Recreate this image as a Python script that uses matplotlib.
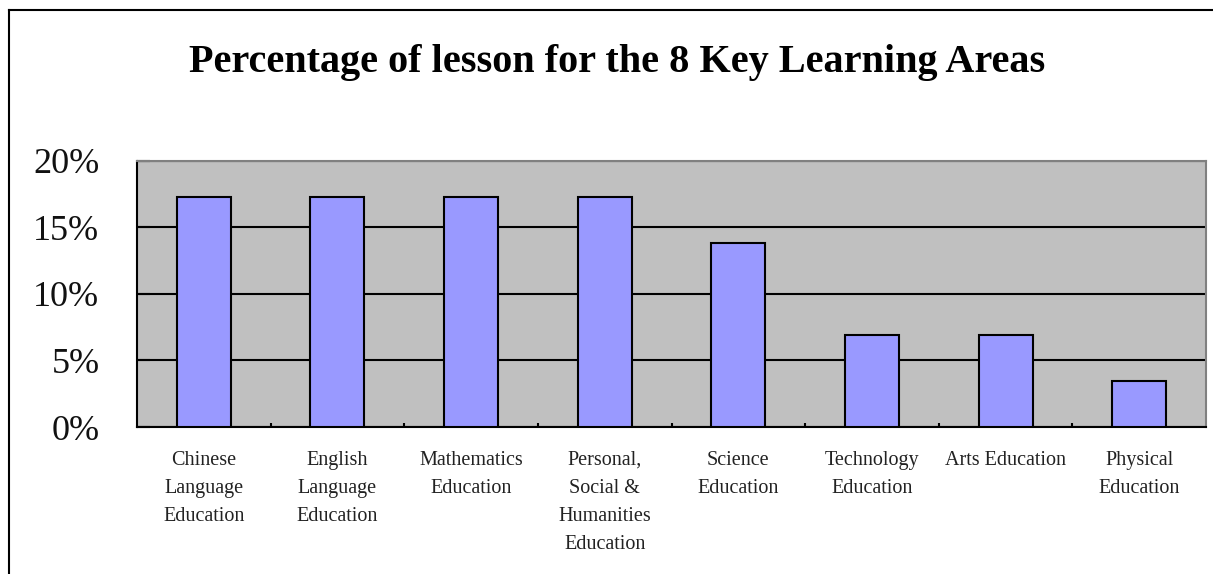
import matplotlib
matplotlib.use("Agg")
import matplotlib.pyplot as plt
from matplotlib.lines import Line2D
from matplotlib.ticker import FuncFormatter

categories = [
    "Chinese\nLanguage\nEducation",
    "English\nLanguage\nEducation",
    "Mathematics\nEducation",
    "Personal,\nSocial &\nHumanities\nEducation",
    "Science\nEducation",
    "Technology\nEducation",
    "Arts Education",
    "Physical\nEducation",
]
values = [17.24, 17.24, 17.24, 17.24, 13.79, 6.90, 6.90, 3.45]
yticks = [0, 5, 10, 15, 20]
title = "Percentage of lesson for the 8 Key Learning Areas"

W, H = 1213, 574
fig = plt.figure(figsize=(W / 100, H / 100), dpi=100)
fig.patch.set_facecolor("white")

# outer chart frame (left and top visible)
fig.add_artist(Line2D([8.5 / W, 8.5 / W], [0, 1 - 9.5 / H], transform=fig.transFigure,
                      color="black", lw=1.5))
fig.add_artist(Line2D([8.5 / W, 1], [1 - 9.5 / H, 1 - 9.5 / H], transform=fig.transFigure,
                      color="black", lw=1.5))

ax = fig.add_axes([137 / W, 147 / H, 1069 / W, 266.5 / H])
ax.set_facecolor("#C0C0C0")
x = list(range(len(categories)))
ax.bar(x, values, width=0.405, color="#9999FF", edgecolor="black", linewidth=1.5, zorder=3)
ax.set_xlim(-0.5, len(categories) - 0.5)
ax.set_ylim(0, 20)
ax.set_yticks(yticks)
ax.yaxis.set_major_formatter(FuncFormatter(lambda v, p: f"{v:.0f}%"))
ax.yaxis.grid(True, color="black", lw=1.5, zorder=1)
ax.set_axisbelow(True)

ax.set_xticks(x)
ax.set_xticklabels(categories, fontfamily="Liberation Serif", fontsize=14.5,
                   linespacing=1.66, color="#222222")
ax.set_xticks([i + 0.5 for i in x[:-1]], minor=True)
ax.tick_params(axis="x", which="major", length=0, pad=17)
ax.tick_params(axis="x", which="minor", direction="in", length=3, width=1.5, color="black")
ax.tick_params(axis="y", direction="in", length=9.5, width=1.5, pad=27)
for lab in ax.get_yticklabels():
    lab.set_fontfamily("Liberation Serif")
    lab.set_fontsize(26)
    lab.set_color("#111111")

for s in ["left", "bottom"]:
    ax.spines[s].set_color("black")
    ax.spines[s].set_linewidth(1.5)
for s in ["top", "right"]:
    ax.spines[s].set_color("#808080")
    ax.spines[s].set_linewidth(1.5)

fig.text(617.5 / W, 1 - 72 / H, title, ha="center", va="baseline",
         fontfamily="Liberation Serif", fontweight="bold", fontsize=29)

fig.savefig("out.png", dpi=100)
